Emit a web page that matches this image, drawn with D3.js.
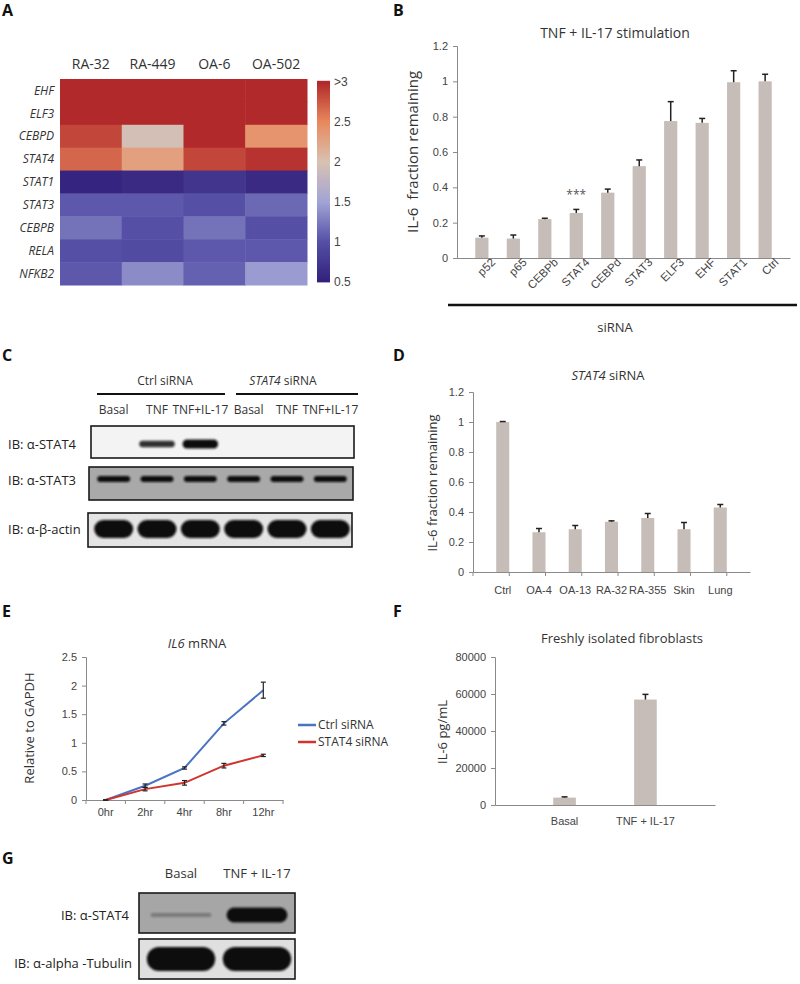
<!DOCTYPE html>
<html>
<head>
<meta charset="utf-8">
<script src="https://cdn.jsdelivr.net/npm/d3@7"></script>
<style>
body { margin: 0; background: #fff; }
svg { font-family: "Open Sans", sans-serif; }
.tick text { fill: #444; }
</style>
</head>
<body>
<svg id="fig" width="800" height="984"></svg>
<script>
// ---------------- data ----------------
// A: heatmap
var heatGenes = ["EHF", "ELF3", "CEBPD", "STAT4", "STAT1", "STAT3", "CEBPB", "RELA", "NFKB2"];
var heatSamples = ["RA-32", "RA-449", "OA-6", "OA-502"];
var heatValues = [
  [3, 3, 3, 3],
  [3, 3, 3, 3],
  [2.85, 1.95, 3, 2.4],
  [2.68, 2.3, 2.85, 2.95],
  [0.55, 0.6, 0.72, 0.6],
  [1.05, 1.05, 1.0, 1.15],
  [1.2, 1.0, 1.2, 1.0],
  [1.0, 0.95, 1.05, 1.05],
  [1.05, 1.35, 1.1, 1.45]
];
var colorTicks = [0.5, 1, 1.5, 2, 2.5, 3];

// B: siRNA screen
var bCats = ["p52", "p65", "CEBPb", "STAT4", "CEBPd", "STAT3", "ELF3", "EHF", "STAT1", "Ctrl"];
var bValues = [0.115, 0.11, 0.22, 0.255, 0.37, 0.52, 0.775, 0.765, 0.995, 1.0];
var bErrors = [0.01, 0.02, 0.005, 0.02, 0.02, 0.035, 0.11, 0.025, 0.065, 0.04];
var bTicks = [0, 0.2, 0.4, 0.6, 0.8, 1, 1.2];

// C: western blot
var cLanes = ["Basal", "TNF", "TNF+IL-17", "Basal", "TNF", "TNF+IL-17"];
var cStat4 = [0, 0.6, 1, 0, 0, 0];
var cStat3 = [0.9, 0.9, 0.85, 0.8, 0.85, 0.85];
var cActin = [1, 1, 1, 1, 1, 1];

// D: STAT4 siRNA across lines
var dCats = ["Ctrl", "OA-4", "OA-13", "RA-32", "RA-355", "Skin", "Lung"];
var dValues = [1.0, 0.265, 0.285, 0.335, 0.36, 0.285, 0.43];
var dErrors = [0.003, 0.025, 0.025, 0.006, 0.03, 0.045, 0.02];
var dTicks = [0, 0.2, 0.4, 0.6, 0.8, 1, 1.2];

// E: IL6 mRNA time course
var eTimes = ["0hr", "2hr", "4hr", "8hr", "12hr"];
var eSeries = ["Ctrl siRNA", "STAT4 siRNA"];
var eCtrl = [0, 0.25, 0.56, 1.34, 1.92];
var eCtrlErr = [0, 0.03, 0.02, 0.03, 0.14];
var eStat4 = [0, 0.19, 0.3, 0.6, 0.78];
var eStat4Err = [0, 0.03, 0.04, 0.04, 0.02];
var eTicks = [0, 0.5, 1, 1.5, 2, 2.5];

// F: freshly isolated fibroblasts
var fCats = ["Basal", "TNF + IL-17"];
var fValues = [4000, 57000];
var fErrors = [400, 2800];
var fTicks = [0, 20000, 40000, 60000, 80000];

// G: western blot
var gLanes = ["Basal", "TNF + IL-17"];
var gStat4 = [0.2, 1];
var gTubulin = [1, 1];

// ---------------- setup ----------------
var svg = d3.select("#fig");
var axisGrey = "#8a8a8a";
var barFill = "#c7bdb8";

var defs = svg.append("defs");
defs.append("filter").attr("id", "blur")
  .attr("x", "-20%").attr("y", "-60%").attr("width", "140%").attr("height", "220%")
  .append("feGaussianBlur").attr("stdDeviation", 1.3);

function panelLetter(t, x, y) {
  svg.append("text").attr("x", x).attr("y", y)
    .attr("font-size", 16).attr("font-weight", "bold").attr("fill", "#111").text(t);
}

function styleAxis(g) {
  g.select(".domain").attr("stroke", axisGrey);
  g.selectAll(".tick line").attr("stroke", axisGrey);
  g.selectAll(".tick text").attr("font-size", 11);
}

// bar chart helper
function barChart(opt) {
  var g = svg.append("g");
  var x = d3.scaleBand().domain(opt.cats).range(opt.xr).padding(opt.pad);
  var y = d3.scaleLinear().domain(opt.yd).range(opt.yr);

  var ya = g.append("g").attr("transform", `translate(${opt.xr[0]},0)`)
    .call(d3.axisLeft(y).tickValues(opt.ticks).tickSize(4).tickPadding(5).tickFormat(opt.fmt || d3.format("")));
  styleAxis(ya);

  var xa = g.append("g").attr("transform", `translate(0,${opt.yr[0]})`)
    .call(d3.axisBottom(x).tickSize(0).tickPadding(opt.xpad || 10));
  styleAxis(xa);
  xa.selectAll(".tick text").attr("font-size", opt.xfs || 11);
  if (opt.boundTicks) {
    var step = x.step();
    g.selectAll(".bt").data(d3.range(opt.cats.length + 1)).join("line")
      .attr("x1", i => opt.xr[0] + i * step).attr("x2", i => opt.xr[0] + i * step)
      .attr("y1", opt.yr[0]).attr("y2", opt.yr[0] + 4).attr("stroke", axisGrey);
  }

  g.selectAll(".bar").data(opt.cats).join("rect")
    .attr("x", d => x(d)).attr("width", x.bandwidth())
    .attr("y", (d, i) => y(opt.vals[i]))
    .attr("height", (d, i) => y(0) - y(opt.vals[i]))
    .attr("fill", barFill);

  // upward error bars
  g.selectAll(".err").data(opt.cats).join("line")
    .attr("x1", d => x(d) + x.bandwidth() / 2).attr("x2", d => x(d) + x.bandwidth() / 2)
    .attr("y1", (d, i) => y(opt.vals[i])).attr("y2", (d, i) => y(opt.vals[i] + opt.errs[i]))
    .attr("stroke", "#222").attr("stroke-width", 1.5);
  g.selectAll(".cap").data(opt.cats).join("line")
    .attr("x1", d => x(d) + x.bandwidth() / 2 - 3).attr("x2", d => x(d) + x.bandwidth() / 2 + 3)
    .attr("y1", (d, i) => y(opt.vals[i] + opt.errs[i])).attr("y2", (d, i) => y(opt.vals[i] + opt.errs[i]))
    .attr("stroke", "#222").attr("stroke-width", 1.5);

  return { g: g, x: x, y: y, xa: xa };
}

// western blot helper
function blotStrip(lanes, vals, box, bg, bandY, hMin, hMax, widthFrac) {
  var g = svg.append("g");
  g.append("rect").attr("x", box[0]).attr("y", box[1])
    .attr("width", box[2] - box[0]).attr("height", box[3] - box[1])
    .attr("fill", bg).attr("stroke", "#1a1a1a").attr("stroke-width", 1.6);
  var bw = lanes.step() * widthFrac;
  g.selectAll(".band").data(vals).join("rect")
    .attr("x", (d, i) => lanes(i) + lanes.bandwidth() / 2 - bw / 2)
    .attr("width", bw)
    .attr("y", d => bandY - (hMin + (hMax - hMin) * d) / 2)
    .attr("height", d => hMin + (hMax - hMin) * d)
    .attr("rx", d => (hMin + (hMax - hMin) * d) / 2)
    .attr("fill", "#111")
    .attr("opacity", d => Math.min(1, d * 1.4))
    .attr("filter", "url(#blur)");
}

function blotLabel(t, x, y, anchor) {
  svg.append("text").attr("x", x).attr("y", y).attr("dy", "0.35em")
    .attr("text-anchor", anchor || "start")
    .attr("font-size", 13).attr("fill", "#222").text(t);
}

// ---------------- A: heatmap ----------------
panelLetter("A", 2, 16);
var hx = d3.scaleBand().domain(heatSamples).range([60, 307]);
var hy = d3.scaleBand().domain(heatGenes).range([79, 285]);
var heatColor = d3.scaleLinear().domain(colorTicks)
  .range(["#33207c", "#5550a6", "#a2a4d6", "#d8c2b2", "#e8895d", "#b1292a"]).clamp(true);

var hg = svg.append("g");
heatGenes.forEach(function (gene, r) {
  hg.selectAll(".c" + r).data(heatValues[r]).join("rect")
    .attr("x", (d, c) => hx(heatSamples[c])).attr("y", hy(gene))
    .attr("width", hx.bandwidth() + 0.5).attr("height", hy.bandwidth() + 0.5)
    .attr("fill", d => heatColor(d));
});
hg.selectAll(".colLab").data(heatSamples).join("text")
  .attr("x", d => hx(d) + hx.bandwidth() / 2).attr("y", 69)
  .attr("text-anchor", "middle").attr("font-size", 14).attr("fill", "#333").text(d => d);
hg.selectAll(".rowLab").data(heatGenes).join("text")
  .attr("x", 54).attr("y", d => hy(d) + hy.bandwidth() / 2).attr("dy", "0.35em")
  .attr("text-anchor", "end").attr("font-size", 12).attr("font-style", "italic")
  .attr("fill", "#333").text(d => d);

// colour bar
var cbY = d3.scaleLinear().domain([0.5, 3]).range([282, 82]);
var cbSteps = d3.range(0.5, 3.0001, 0.01);
hg.selectAll(".cb").data(cbSteps).join("rect")
  .attr("x", 317).attr("width", 13)
  .attr("y", d => cbY(d) - 1.2).attr("height", 1.6)
  .attr("fill", d => heatColor(d));
var cbAxis = hg.append("g").attr("transform", "translate(331,0)")
  .call(d3.axisRight(cbY).tickValues(colorTicks).tickSize(0).tickPadding(3)
    .tickFormat(d => d === 3 ? ">3" : d));
cbAxis.select(".domain").remove();
cbAxis.selectAll(".tick text").attr("font-size", 12).attr("fill", "#444");

// ---------------- B ----------------
panelLetter("B", 393, 16);
svg.append("text").attr("x", 615).attr("y", 38).attr("text-anchor", "middle")
  .attr("font-size", 14).attr("fill", "#333").text("TNF + IL-17 stimulation");
var bChart = barChart({
  cats: bCats, vals: bValues, errs: bErrors, ticks: bTicks,
  xr: [457, 790], yr: [258, 46], yd: [0, 1.2], pad: 0.58,
  fmt: d3.format("")
});
bChart.xa.selectAll(".tick text")
  .attr("text-anchor", "end").attr("dy", 0).attr("font-size", 11.5)
  .attr("transform", "translate(7,-2) rotate(-45)");
svg.append("text").attr("x", bChart.x("STAT4") + bChart.x.bandwidth() / 2).attr("y", 199)
  .attr("text-anchor", "middle").attr("font-size", 12).attr("fill", "#555").text("***");
svg.append("text").attr("transform", "translate(418,152) rotate(-90)")
  .attr("text-anchor", "middle").attr("font-size", 15).attr("fill", "#333")
  .attr("xml:space", "preserve").text("IL-6  fraction remaining");
svg.append("line").attr("x1", 448).attr("x2", 797).attr("y1", 305).attr("y2", 305)
  .attr("stroke", "#111").attr("stroke-width", 2.5);
svg.append("text").attr("x", 615).attr("y", 332).attr("text-anchor", "middle")
  .attr("font-size", 13).attr("fill", "#333").text("siRNA");

// ---------------- C ----------------
panelLetter("C", 2, 361);
var cLaneX = d3.scaleBand().domain(d3.range(cLanes.length)).range([92, 352]);
svg.append("text").attr("x", 165).attr("y", 385).attr("text-anchor", "middle")
  .attr("font-size", 12).attr("fill", "#333").text("Ctrl siRNA");
var st4 = svg.append("text").attr("x", 283).attr("y", 385).attr("text-anchor", "middle")
  .attr("font-size", 12).attr("fill", "#333");
st4.append("tspan").attr("font-style", "italic").text("STAT4");
st4.append("tspan").text(" siRNA");
svg.append("line").attr("x1", 97).attr("x2", 225).attr("y1", 394).attr("y2", 394)
  .attr("stroke", "#111").attr("stroke-width", 2);
svg.append("line").attr("x1", 236).attr("x2", 358).attr("y1", 394).attr("y2", 394)
  .attr("stroke", "#111").attr("stroke-width", 2);
svg.selectAll(".cLane").data(cLanes).join("text")
  .attr("x", (d, i) => cLaneX(i) + cLaneX.bandwidth() / 2 + (i === 3 ? 5 : 0))
  .attr("y", 414).attr("text-anchor", "middle")
  .attr("font-size", 12).attr("fill", "#333").text(d => d);

blotStrip(cLaneX, cStat4, [91, 426, 354, 458], "#f3f3f3", 444, 3, 9, 0.82);
blotStrip(cLaneX, cStat3, [89, 467, 353, 500], "#a9a9a9", 479, 5, 6, 0.76);
blotStrip(cLaneX, cActin, [88, 513, 352, 547], "#e4e4e4", 529, 14, 18, 0.9);
blotLabel("IB: \u03b1-STAT4", 8, 444);
blotLabel("IB: \u03b1-STAT3", 8, 480);
blotLabel("IB: \u03b1-\u03b2-actin", 8, 529);

// ---------------- D ----------------
panelLetter("D", 393, 361);
var dTitle = svg.append("text").attr("x", 608).attr("y", 380).attr("text-anchor", "middle")
  .attr("font-size", 13).attr("fill", "#333");
dTitle.append("tspan").attr("font-style", "italic").text("STAT4");
dTitle.append("tspan").text(" siRNA");
barChart({
  cats: dCats, vals: dValues, errs: dErrors, ticks: dTicks,
  xr: [473, 750], yr: [572, 392], yd: [0, 1.2], pad: 0.64, boundTicks: true,
  xpad: 14, fmt: d3.format("")
});
svg.append("text").attr("transform", "translate(437,483) rotate(-90)")
  .attr("text-anchor", "middle").attr("font-size", 13).attr("fill", "#333")
  .text("IL-6 fraction remaining");

// ---------------- E ----------------
panelLetter("E", 2, 617);
var eTitle = svg.append("text").attr("x", 197).attr("y", 648).attr("text-anchor", "middle")
  .attr("font-size", 13).attr("fill", "#333");
eTitle.append("tspan").attr("font-style", "italic").text("IL6");
eTitle.append("tspan").text(" mRNA");
var ex = d3.scaleBand().domain(eTimes).range([86, 283]);
var ey = d3.scaleLinear().domain([0, 2.5]).range([800, 657]);
var eg = svg.append("g");
var eya = eg.append("g").attr("transform", "translate(86,0)")
  .call(d3.axisLeft(ey).tickValues(eTicks).tickSize(4).tickPadding(5).tickFormat(d3.format("")));
styleAxis(eya);
var exa = eg.append("g").attr("transform", "translate(0,800)")
  .call(d3.axisBottom(ex).tickSize(0).tickPadding(8));
styleAxis(exa);
eg.selectAll(".bt").data(d3.range(eTimes.length + 1)).join("line")
  .attr("x1", i => 86 + i * ex.step()).attr("x2", i => 86 + i * ex.step())
  .attr("y1", 800).attr("y2", 804).attr("stroke", axisGrey);

var eColors = ["#4a73c2", "#d0342f"];
[[eCtrl, eCtrlErr], [eStat4, eStat4Err]].forEach(function (s, k) {
  var line = d3.line().x((d, i) => ex(eTimes[i]) + ex.bandwidth() / 2).y(d => ey(d));
  eg.append("path").datum(s[0]).attr("d", line)
    .attr("fill", "none").attr("stroke", eColors[k]).attr("stroke-width", 2);
  eg.selectAll(".eb" + k).data(s[0]).join("line")
    .attr("x1", (d, i) => ex(eTimes[i]) + ex.bandwidth() / 2)
    .attr("x2", (d, i) => ex(eTimes[i]) + ex.bandwidth() / 2)
    .attr("y1", (d, i) => ey(d - s[1][i])).attr("y2", (d, i) => ey(d + s[1][i]))
    .attr("stroke", "#222").attr("stroke-width", 1.2);
  [-1, 1].forEach(function (sg) {
    eg.selectAll(".ec" + k + sg).data(s[0]).join("line")
      .attr("x1", (d, i) => ex(eTimes[i]) + ex.bandwidth() / 2 - 2.5)
      .attr("x2", (d, i) => ex(eTimes[i]) + ex.bandwidth() / 2 + 2.5)
      .attr("y1", (d, i) => ey(d + sg * s[1][i])).attr("y2", (d, i) => ey(d + sg * s[1][i]))
      .attr("stroke", "#222").attr("stroke-width", 1.2);
  });
});
eSeries.forEach(function (name, k) {
  var ly = 725 + k * 17;
  eg.append("line").attr("x1", 298).attr("x2", 316).attr("y1", ly).attr("y2", ly)
    .attr("stroke", eColors[k]).attr("stroke-width", 2.5);
  eg.append("text").attr("x", 318).attr("y", ly).attr("dy", "0.35em")
    .attr("font-size", 12).attr("fill", "#333").text(name);
});
svg.append("text").attr("transform", "translate(34,728) rotate(-90)")
  .attr("text-anchor", "middle").attr("font-size", 13).attr("fill", "#333")
  .text("Relative to GAPDH");

// ---------------- F ----------------
panelLetter("F", 393, 617);
svg.append("text").attr("x", 622).attr("y", 643).attr("text-anchor", "middle")
  .attr("font-size", 13).attr("fill", "#333").text("Freshly isolated fibroblasts");
barChart({
  cats: fCats, vals: fValues, errs: fErrors, ticks: fTicks,
  xr: [495, 715], yr: [805, 657], yd: [0, 80000], pad: 0.72,
  xpad: 12, fmt: d3.format("d")
});
svg.append("text").attr("transform", "translate(447,732) rotate(-90)")
  .attr("text-anchor", "middle").attr("font-size", 13).attr("fill", "#333")
  .text("IL-6 pg/mL");

// ---------------- G ----------------
panelLetter("G", 2, 864);
var gLaneX = d3.scaleBand().domain(d3.range(gLanes.length)).range([143, 295]);
svg.selectAll(".gLane").data(gLanes).join("text")
  .attr("x", (d, i) => gLaneX(i) + gLaneX.bandwidth() / 2)
  .attr("y", 878).attr("text-anchor", "middle")
  .attr("font-size", 13).attr("fill", "#333").text(d => d);
blotStrip(gLaneX, gStat4, [139, 893, 295, 933], "#a6a6a6", 915, 1, 15, 0.8);
blotStrip(gLaneX, gTubulin, [139, 939, 295, 979], "#e0e0e0", 959, 22, 24, 0.9);
blotLabel("IB: \u03b1-STAT4", 129, 915, "end");
blotLabel("IB: \u03b1-alpha -Tubulin", 132, 963, "end");
</script>
</body>
</html>
